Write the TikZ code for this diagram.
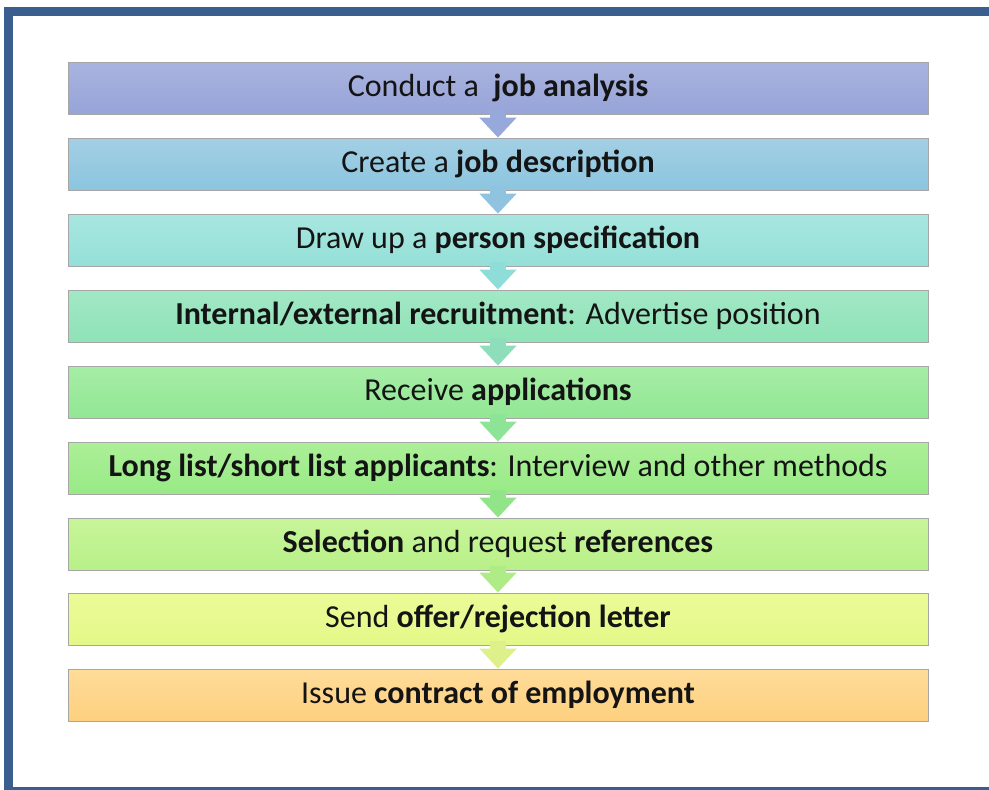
\documentclass[tikz,border=0pt]{standalone}
\usepackage{fontspec}
\setmainfont{Carlito}
\usetikzlibrary{arrows.meta,calc}
\definecolor{frameblue}{HTML}{3A5F8E}
\definecolor{txt}{HTML}{141414}
\definecolor{c1t}{HTML}{A9B3DF}\definecolor{c1b}{HTML}{97A4D8}
\definecolor{c2t}{HTML}{A3CFE4}\definecolor{c2b}{HTML}{8CC5DF}
\definecolor{c3t}{HTML}{A8E6E0}\definecolor{c3b}{HTML}{94E0D8}
\definecolor{c4t}{HTML}{A2E8C6}\definecolor{c4b}{HTML}{8FE2B6}
\definecolor{c5t}{HTML}{A6EDA6}\definecolor{c5b}{HTML}{92E794}
\definecolor{c6t}{HTML}{ACEF98}\definecolor{c6b}{HTML}{98EA86}
\definecolor{c7t}{HTML}{C8F59A}\definecolor{c7b}{HTML}{B8F088}
\definecolor{c8t}{HTML}{EBFB98}\definecolor{c8b}{HTML}{E4F888}
\definecolor{c9t}{HTML}{FFDC9A}\definecolor{c9b}{HTML}{FDD07E}
\definecolor{a1}{HTML}{97A9DA}\definecolor{a2}{HTML}{8FC3E0}
\definecolor{a3}{HTML}{8FDDD8}\definecolor{a4}{HTML}{8EDDBB}
\definecolor{a5}{HTML}{8EE496}\definecolor{a6}{HTML}{92E489}
\definecolor{a7}{HTML}{B0EC86}\definecolor{a8}{HTML}{DDF08A}
\tikzset{
  stepbox/.style n args={2}{draw=black!35, line width=0.8pt, top color=#1, bottom color=#2,
    minimum width=860pt, minimum height=52pt, inner sep=0pt, text=txt,
    font=\fontsize{32}{36}\selectfont},
  flowarrow/.style={line width=16pt, draw=#1, -{Triangle[width=36pt,length=20pt]}, shorten <=-4pt},
}
\begin{document}
\begin{tikzpicture}[x=1pt,y=-1pt]
\useasboundingbox (0,0) rectangle (989,790);
\clip (0,0) rectangle (989,790);
\fill[white] (0,0) rectangle (989,790);
\node[stepbox={c1t}{c1b}] (b1) at (498,88) {Conduct a \ \textbf{job analysis}};
\node[stepbox={c2t}{c2b}] (b2) at (498,164) {Create a \textbf{job description}};
\node[stepbox={c3t}{c3b}] (b3) at (498,240) {Draw up a \textbf{person specification}};
\node[stepbox={c4t}{c4b}] (b4) at (498,316) {\textbf{Internal/external recruitment}: Advertise position};
\node[stepbox={c5t}{c5b}] (b5) at (498,392) {Receive \textbf{applications}};
\node[stepbox={c6t}{c6b}] (b6) at (498,468) {\textbf{Long list/short list applicants}: Interview and other methods};
\node[stepbox={c7t}{c7b}] (b7) at (498,544) {\textbf{Selection} and request \textbf{references}};
\node[stepbox={c8t}{c8b}] (b8) at (498,619) {Send \textbf{offer/rejection letter}};
\node[stepbox={c9t}{c9b}] (b9) at (498,695) {Issue \textbf{contract of employment}};
\draw[flowarrow=a1] (b1.south) -- (b2.north);
\draw[flowarrow=a2] (b2.south) -- (b3.north);
\draw[flowarrow=a3] (b3.south) -- (b4.north);
\draw[flowarrow=a4] (b4.south) -- (b5.north);
\draw[flowarrow=a5] (b5.south) -- (b6.north);
\draw[flowarrow=a6] (b6.south) -- (b7.north);
\draw[flowarrow=a7] (b7.south) -- (b8.north);
\draw[flowarrow=a8] (b8.south) -- (b9.north);
\draw[frameblue, line width=9pt] (8.5,11.5) rectangle (1000,791.5);
\end{tikzpicture}
\end{document}
